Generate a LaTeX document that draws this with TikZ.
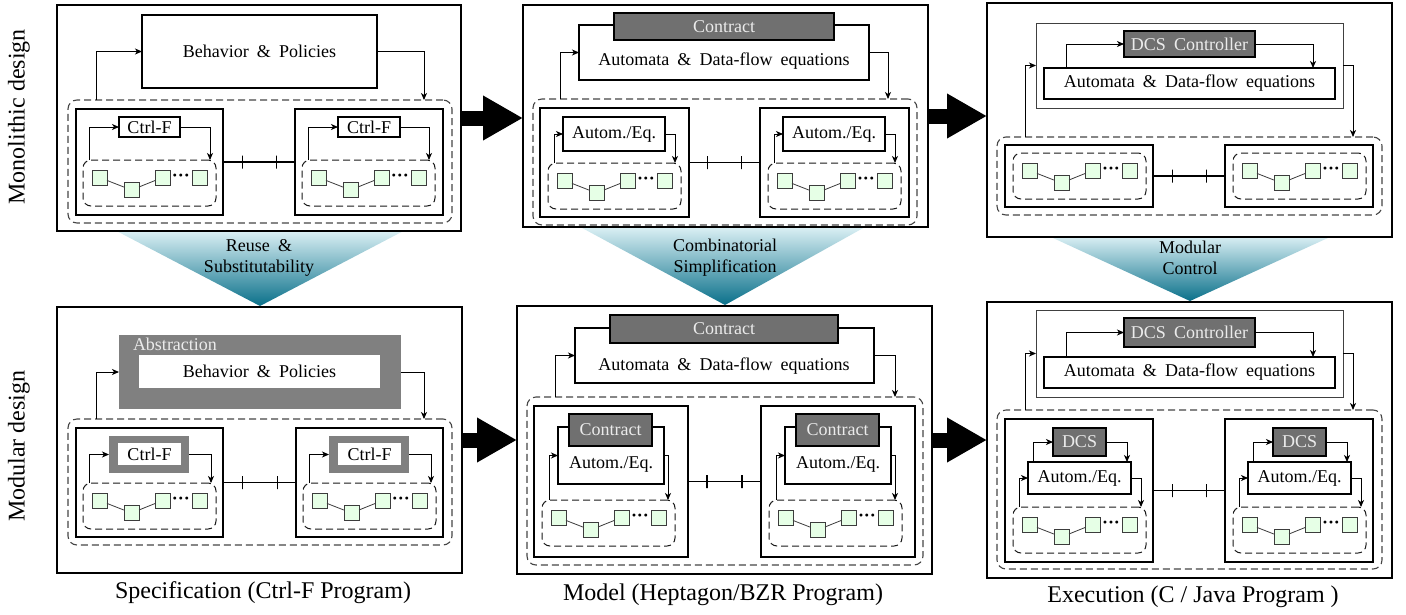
\documentclass[tikz,border=0pt]{standalone}
\usepackage{fontspec}
\setmainfont{Liberation Serif}
\usetikzlibrary{arrows.meta,calc}
\definecolor{boxgray}{RGB}{112,112,112}
\definecolor{abgray}{RGB}{128,128,128}
\definecolor{lighttext}{RGB}{235,235,235}
\definecolor{sqfill}{RGB}{230,255,230}
\definecolor{sqdraw}{RGB}{60,60,60}
\definecolor{dashgray}{RGB}{70,70,70}
\definecolor{tritop}{RGB}{232,248,251}
\definecolor{trimid}{RGB}{100,190,208}
\definecolor{tribot}{RGB}{10,112,138}

\newcommand\w{\hspace{0.45em}}
\newcommand\mybox[7]{\node[#6, minimum width={(#4-#2)*1pt}, minimum height={(#5-#3)*1pt}] (#1) at ({(#2+#4)/2},{(#3+#5)/2}) {#7};}
\newcommand\sqrow[3]{%
 \node[sq] (#1s1) at ({#2},{#3}) {};
 \node[sq] (#1s2) at ({#2+32},{#3+12.5}) {};
 \node[sq] (#1s3) at ({#2+63},{#3}) {};
 \node[dotsnode] (#1dt) at ({#2+81.5},{#3}) {···};
 \node[sq] (#1s4) at ({#2+100},{#3}) {};
 \draw[sqline] (#1s1) -- (#1s2) -- (#1s3);}
\newcommand\cluster[3]{%
 \node[idash, minimum width=133pt, minimum height=46pt, anchor=north west] (#1) at ({#2},{#3}) {};
 \sqrow{#1}{#2+16.5}{#3+17.5}}

\tikzset{
 every node/.style={inner sep=0pt, outer sep=0pt},
 f18/.style={font=\fontsize{18}{21}\selectfont},
 f24/.style={font=\fontsize{24}{28}\selectfont},
 panel/.style={draw, line width=2pt, fill=white},
 thickbox/.style={draw, line width=1.8pt, fill=white},
 thinbox/.style={draw=black!75, line width=0.9pt, fill=white},
 graybox/.style={draw, line width=1.6pt, fill=boxgray, text=lighttext, f18},
 abframe/.style={fill=abgray},
 whitebox/.style={fill=white, f18},
 odash/.style={draw=dashgray, line width=1.1pt, dash pattern=on 7pt off 4pt, rounded corners=9pt},
 idash/.style={draw=black!90, line width=1pt, dash pattern=on 7pt off 4pt, rounded corners=8pt},
 sq/.style={draw=sqdraw, fill=sqfill, line width=0.8pt, minimum size=15pt},
 sqline/.style={draw=sqdraw, line width=0.8pt},
 dotsnode/.style={font=\fontsize{18}{21}\selectfont\bfseries},
 arr/.style={-{Stealth[length=7pt,width=6pt,inset=2pt]}, line width=0.9pt},
 conn/.style={line width=1.3pt},
 tick/.style={draw, line width=1.1pt, minimum width=0pt, minimum height=13pt},
 bigarrow/.style={line width=15pt, -{Triangle[length=40pt,width=42pt]}},
 tritext/.style={f18, align=center},
}

\begin{document}
\begin{tikzpicture}[x=1pt,y=-1pt]
\useasboundingbox (0,0) rectangle (1406,614);

% ---- transition triangles
\shade[top color=tritop, middle color=trimid, bottom color=tribot] (107,226) -- (413,226) -- (260,306) -- cycle;
\shade[top color=tritop, middle color=trimid, bottom color=tribot] (571,222) -- (874,222) -- (725,305) -- cycle;
\shade[top color=tritop, middle color=trimid, bottom color=tribot] (1040,232) -- (1341,232) -- (1190,301) -- cycle;
\node[tritext] (t1) at (259,258) {Reuse\w\&\\Substitutability};
\node[tritext] (t2) at (725,258) {Combinatorial\\Simplification};
\node[tritext] (t3) at (1190,258) {Modular\\Control};

% ---- side labels
\node[f24, rotate=90] (lab1) at (19,117) {Monolithic design};
\node[f24, rotate=90] (lab2) at (19,446) {Modular design};

% ================= TL
\mybox{tl}{57}{5}{461}{231}{panel}{}
\mybox{tld}{68}{100}{452}{223}{odash}{}
\mybox{tlbp}{142}{15}{377}{88}{thickbox,f18}{Behavior\w\&\w Policies}
\draw[arr] ([xshift=28pt]tld.north west) |- (tlbp.west);
\draw[arr] (tlbp.east) -| ([xshift=-28pt]tld.north east);
\mybox{tlm1}{76}{109}{223}{215}{thickbox}{}
\mybox{tlm2}{295}{109}{443}{215}{thickbox}{}
\draw[conn] (tlm1.east) -- node[tick,pos=.265]{} node[tick,pos=.745]{} (tlm2.west);
\mybox{tlc1}{119}{117}{180}{137}{thickbox,f18}{Ctrl-F}
\mybox{tlc2}{338}{117}{400}{137}{thickbox,f18}{Ctrl-F}
\cluster{tlk1}{83}{160}
\cluster{tlk2}{302}{160}
\draw[arr] ([xshift=6pt]tlk1.north west) |- (tlc1.west);
\draw[arr] (tlc1.east) -| ([xshift=-6pt]tlk1.north east);
\draw[arr] ([xshift=6pt]tlk2.north west) |- (tlc2.west);
\draw[arr] (tlc2.east) -| ([xshift=-6pt]tlk2.north east);

% ================= TM
\mybox{tm}{523}{5}{928}{227}{panel}{}
\mybox{tmd}{533}{99}{917}{225}{odash}{}
\mybox{tmcont}{579}{25}{869}{80}{thickbox}{}
\mybox{tmctr}{614}{13}{834}{40}{graybox}{Contract}
\node[f18] (tmtxt) at (724,61) {Automata\w\&\w Data-flow\w equations};
\draw[arr] ([xshift=27pt]tmd.north west) |- (tmcont.west);
\draw[arr] (tmcont.east) -| ([xshift=-29pt]tmd.north east);
\mybox{tmm1}{540}{108}{689}{217}{thickbox}{}
\mybox{tmm2}{760}{108}{909}{217}{thickbox}{}
\draw[conn] (tmm1.east) -- node[tick,pos=.265]{} node[tick,pos=.745]{} (tmm2.west);
\mybox{tma1}{563}{117}{665}{151}{thickbox,f18}{Autom./Eq.}
\mybox{tma2}{783}{117}{885}{151}{thickbox,f18}{Autom./Eq.}
\cluster{tmk1}{548}{163}
\cluster{tmk2}{768}{163}
\draw[arr] ([xshift=6pt]tmk1.north west) |- (tma1.west);
\draw[arr] (tma1.east) -| ([xshift=-6pt]tmk1.north east);
\draw[arr] ([xshift=6pt]tmk2.north west) |- (tma2.west);
\draw[arr] (tma2.east) -| ([xshift=-6pt]tmk2.north east);

% ================= TR
\mybox{tr}{987}{3}{1392}{237}{panel}{}
\mybox{trd}{997}{137}{1382}{215}{odash}{}
\mybox{trcont}{1036}{23}{1343}{108}{thinbox}{}
\mybox{trdcs}{1124}{31}{1255}{57}{graybox}{DCS\w Controller}
\mybox{trauto}{1044}{68}{1335}{99}{thickbox,f18}{Automata\w\&\w Data-flow\w equations}
\draw[arr] ([xshift=22pt]trauto.north west) |- (trdcs.west);
\draw[arr] (trdcs.east) -| ([xshift=-22pt]trauto.north east);
\draw[arr] ([xshift=28pt]trd.north west) |- (trcont.west);
\draw[arr] (trcont.east) -| ([xshift=-29pt]trd.north east);
\mybox{trm1}{1005}{145}{1153}{207}{thickbox}{}
\mybox{trm2}{1225}{145}{1373}{207}{thickbox}{}
\draw[conn] (trm1.east) -- node[tick,pos=.265]{} node[tick,pos=.745]{} (trm2.west);
\cluster{trk1}{1013}{153}
\cluster{trk2}{1233}{153}

% ================= BL
\mybox{bl}{57}{307}{462}{573}{panel}{}
\mybox{bld}{68}{419}{452}{545}{odash}{}
\mybox{blab}{119}{335}{401}{409}{abframe}{}
\node[f18, text=lighttext, anchor=west] (ablbl) at (133,344) {Abstraction};
\mybox{blbp}{139}{355}{380}{388}{whitebox}{Behavior\w\&\w Policies}
\draw[arr] ([xshift=28pt]bld.north west) |- (blab.west);
\draw[arr] (blab.east) -| ([xshift=-28pt]bld.north east);
\mybox{blm1}{76}{428}{223}{537}{thickbox}{}
\mybox{blm2}{296}{428}{443}{537}{thickbox}{}
\draw[conn] (blm1.east) -- node[tick,pos=.265]{} node[tick,pos=.745]{} (blm2.west);
\mybox{blf1}{109}{436}{189}{473}{abframe}{}
\mybox{blc1}{118}{443}{181}{465}{whitebox}{Ctrl-F}
\mybox{blf2}{329}{436}{409}{473}{abframe}{}
\mybox{blc2}{338}{443}{401}{465}{whitebox}{Ctrl-F}
\cluster{blk1}{83}{483}
\cluster{blk2}{303}{483}
\draw[arr] ([xshift=6pt]blk1.north west) |- (blf1.west);
\draw[arr] (blf1.east) -| ([xshift=-5pt]blk1.north east);
\draw[arr] ([xshift=6pt]blk2.north west) |- (blf2.west);
\draw[arr] (blf2.east) -| ([xshift=-5pt]blk2.north east);
\node[f24] (cap1) at (263,593) {Specification (Ctrl-F Program)};

% ================= BM
\mybox{bm}{517}{306}{932}{574}{panel}{}
\mybox{bmd}{527}{397}{923}{565}{odash}{}
\mybox{bmcont}{575}{328}{874}{383}{thickbox}{}
\mybox{bmctr}{610}{315}{838}{343}{graybox}{Contract}
\node[f18] (bmtxt) at (724,366) {Automata\w\&\w Data-flow\w equations};
\draw[arr] ([xshift=28pt]bmd.north west) |- (bmcont.west);
\draw[arr] (bmcont.east) -| ([xshift=-28pt]bmd.north east);
\mybox{bmm1}{534}{406}{688}{557}{thickbox}{}
\mybox{bmm2}{761}{406}{915}{557}{thickbox}{}
\draw[conn] (bmm1.east) -- node[tick,pos=.26]{} node[tick,pos=.74]{} (bmm2.west);
\mybox{bma1}{558}{427}{664}{484}{thickbox}{}
\mybox{bmc1}{569}{414}{652}{446}{graybox}{Contract}
\node[f18] (bmt1) at (611,464) {Autom./Eq.};
\mybox{bma2}{785}{427}{891}{484}{thickbox}{}
\mybox{bmc2}{796}{414}{879}{446}{graybox}{Contract}
\node[f18] (bmt2) at (838,464) {Autom./Eq.};
\cluster{bmk1}{542}{500}
\cluster{bmk2}{769}{500}
\draw[arr] ([xshift=7pt]bmk1.north west) |- (bma1.west);
\draw[arr] (bma1.east) -| ([xshift=-7pt]bmk1.north east);
\draw[arr] ([xshift=7pt]bmk2.north west) |- (bma2.west);
\draw[arr] (bma2.east) -| ([xshift=-7pt]bmk2.north east);
\node[f24] (cap2) at (723,595) {Model (Heptagon/BZR Program)};

% ================= BR
\mybox{br}{987}{302}{1392}{578}{panel}{}
\mybox{brd}{997}{410}{1382}{569}{odash}{}
\mybox{brcont}{1036}{310}{1343}{397}{thinbox}{}
\mybox{brdcs}{1124}{318}{1255}{347}{graybox}{DCS\w Controller}
\mybox{brauto}{1044}{357}{1335}{388}{thickbox,f18}{Automata\w\&\w Data-flow\w equations}
\draw[arr] ([xshift=22pt]brauto.north west) |- (brdcs.west);
\draw[arr] (brdcs.east) -| ([xshift=-22pt]brauto.north east);
\draw[arr] ([xshift=28pt]brd.north west) |- (brcont.west);
\draw[arr] (brcont.east) -| ([xshift=-29pt]brd.north east);
\mybox{brm1}{1005}{419}{1153}{562}{thickbox}{}
\mybox{brm2}{1225}{419}{1373}{562}{thickbox}{}
\draw[conn] (brm1.east) -- node[tick,pos=.265]{} node[tick,pos=.745]{} (brm2.west);
\mybox{bra1}{1028}{462}{1131}{494}{thickbox,f18}{Autom./Eq.}
\mybox{brs1}{1053}{428}{1106}{456}{graybox}{DCS}
\mybox{bra2}{1248}{462}{1351}{494}{thickbox,f18}{Autom./Eq.}
\mybox{brs2}{1273}{428}{1326}{456}{graybox}{DCS}
\draw[arr] ([xshift=5pt]bra1.north west) |- (brs1.west);
\draw[arr] (brs1.east) -| ([xshift=-4pt]bra1.north east);
\draw[arr] ([xshift=5pt]bra2.north west) |- (brs2.west);
\draw[arr] (brs2.east) -| ([xshift=-4pt]bra2.north east);
\cluster{brk1}{1013}{507}
\cluster{brk2}{1233}{507}
\draw[arr] ([xshift=6pt]brk1.north west) |- (bra1.west);
\draw[arr] (bra1.east) -| ([xshift=-5pt]brk1.north east);
\draw[arr] ([xshift=6pt]brk2.north west) |- (bra2.west);
\draw[arr] (bra2.east) -| ([xshift=-5pt]brk2.north east);
\node[f24] (cap3) at (1193,597) {Execution (C / Java Program )};

% ---- big transition arrows
\draw[bigarrow] (tl.east) -- (tl.east -| tm.west);
\draw[bigarrow] (tm.east) -- (tm.east -| tr.west);
\draw[bigarrow] (bl.east) -- (bl.east -| bm.west);
\draw[bigarrow] (bm.east) -- (bm.east -| br.west);
\end{tikzpicture}
\end{document}
